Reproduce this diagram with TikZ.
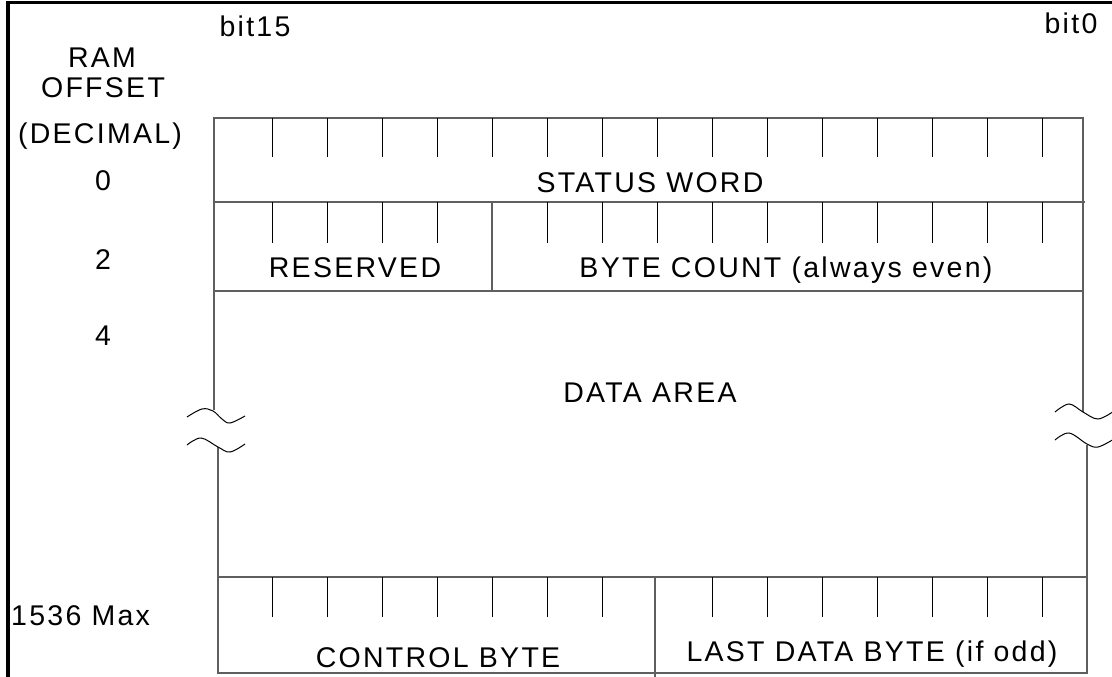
\documentclass[tikz,border=0pt]{standalone}
\usepackage{fontspec}
\setmainfont[LetterSpace=8]{Liberation Sans}
\definecolor{boxgray}{RGB}{95,95,95}
\begin{document}
\begin{tikzpicture}[x=1pt,y=-1pt,
  box/.style={draw=boxgray, line width=1.4pt},
  tickline/.style={draw=black, line width=0.9pt},
  wave/.style={draw=black, line width=1pt},
  lbl/.style={inner sep=0pt, anchor=base, font=\fontsize{28.5}{32}\selectfont}]
\useasboundingbox (0,0) rectangle (1112,677);
% outer frame (cropped)
\draw[line width=3.5pt] (8,680) -- (8,2.5) -- (1115,2.5);
% upper part
\draw[box] (214,410) -- (214,118) -- (1083,118) -- (1083,412);
\draw[box] (214,202) -- (1085,202);
\draw[box] (214,291) -- (1083,291);
\draw[box] (492,202) -- (492,291);
% lower part
\draw[box] (218,447) -- (218,673) -- (1087,673) -- (1087,445);
\draw[box] (218,577) -- (1087,577);
\draw[box] (655,577) -- (655,677);
% ticks
\foreach \k in {0,...,14} \draw[tickline] ({272+55*\k},118) -- ++(0,39);
\foreach \k in {0,1,2,3,5,6,7,8,9,10,11,12,13,14} \draw[tickline] ({272+55*\k},202) -- ++(0,41);
\foreach \k in {0,1,2,3,4,5,6,8,9,10,11,12,13,14} \draw[tickline] ({272+55*\k},577) -- ++(0,40);
% break waves
\draw[wave] plot[smooth, tension=0.6] coordinates {(187,417) (202,409) (213,411) (222,419) (230,423) (245,416)};
\draw[wave] plot[smooth, tension=0.6] coordinates {(187,445) (201,438) (218,447) (230,452) (245,444)};
\draw[wave] plot[smooth, tension=0.6] coordinates {(1055,412) (1069,404) (1083,412) (1098,419) (1114,411)};
\draw[wave] plot[smooth, tension=0.6] coordinates {(1055,440) (1069,433) (1087,444) (1098,447) (1114,439)};
% labels
\node[lbl] (b15) at (255,37) {bit15};
\node[lbl] (b0) at (1071,34) {bit0};
\node[lbl] (ram) at (102,68) {RAM};
\node[lbl] (off) at (103,98) {OFFSET};
\node[lbl] (dec) at (100,143) {(DECIMAL)};
\node[lbl] (o0) at (103,190) {0};
\node[lbl] (o2) at (103,269) {2};
\node[lbl] (o4) at (103,345) {4};
\node[lbl, anchor=base west] (omax) at (11,625) {1536 Max};
\node[lbl] (sw) at (650,192) {STATUS WORD};
\node[lbl] (res) at (355,277) {RESERVED};
\node[lbl] (bc) at (786,277) {BYTE COUNT (always even)};
\node[lbl] (da) at (650,402) {DATA AREA};
\node[lbl] (cb) at (438,667) {CONTROL BYTE};
\node[lbl] (ld) at (872,661) {LAST DATA BYTE (if odd)};
\end{tikzpicture}
\end{document}
